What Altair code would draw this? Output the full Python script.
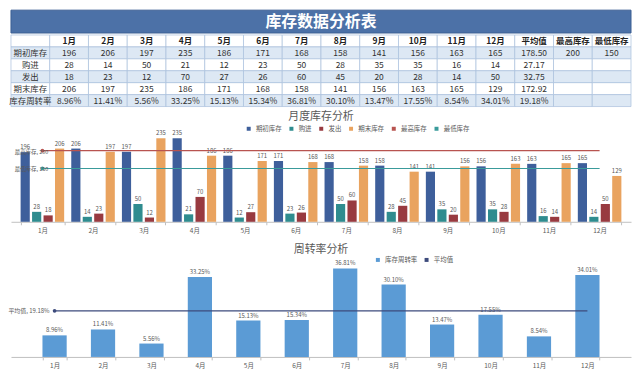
import altair as alt
import pandas as pd

# ---------------- data ----------------
months = ["1月", "2月", "3月", "4月", "5月", "6月", "7月", "8月", "9月", "10月", "11月", "12月"]
opening = [196, 206, 197, 235, 186, 171, 168, 158, 141, 156, 163, 165]
purchase = [28, 14, 50, 21, 12, 23, 50, 28, 35, 35, 16, 14]
issued = [18, 23, 12, 70, 27, 26, 60, 45, 20, 28, 14, 50]
closing = [206, 197, 235, 186, 171, 168, 158, 141, 156, 163, 165, 129]
turnover = [8.96, 11.41, 5.56, 33.25, 15.13, 15.34, 36.81, 30.10, 13.47, 17.55, 8.54, 34.01]
avg_opening = 178.50
avg_purchase = 27.17
avg_issued = 32.75
avg_closing = 172.92
avg_turnover = 19.18
max_stock = 200
min_stock = 150

table_title = "库存数据分析表"
chart1_title = "月度库存分析"
chart2_title = "周转率分析"
series_names = ["期初库存", "购进", "发出", "期末库存"]
line_names = ["最高库存", "最低库存"]
rate_name = "库存周转率"
avg_name = "平均值"
extra_cols = ["平均值", "最高库存", "最低库存"]

FONT = "Noto Sans CJK SC"
W = 624
GREY = "#595959"

# ---------------- banner ----------------
banner_df = pd.DataFrame({"t": [table_title]})
banner = alt.layer(
    alt.Chart(banner_df).mark_rect(fill="#4c71a7", stroke="#3b5f93").encode(
        x=alt.value(0), x2=alt.value(W), y=alt.value(0), y2=alt.value(23)),
    alt.Chart(banner_df).mark_text(color="white", font=FONT, fontSize=16, fontWeight="bold").encode(
        x=alt.value(W / 2), y=alt.value(12), text="t:N"),
).properties(width=W, height=23)

# ---------------- table ----------------
cols = ["_label"] + months + extra_cols
row_keys = ["_header"] + series_names + [rate_name]
row_vals = {
    "期初库存": [str(v) for v in opening] + [f"{avg_opening:.2f}", str(max_stock), str(min_stock)],
    "购进": [str(v) for v in purchase] + [f"{avg_purchase:.2f}", "", ""],
    "发出": [str(v) for v in issued] + [f"{avg_issued:.2f}", "", ""],
    "期末库存": [str(v) for v in closing] + [f"{avg_closing:.2f}", "", ""],
    rate_name: [f"{v:.2f}%" for v in turnover] + [f"{avg_turnover:.2f}%", "", ""],
}
recs = []
for c in cols:
    recs.append({"row": "_header", "col": c, "text": "" if c == "_label" else c})
for r in row_keys[1:]:
    recs.append({"row": r, "col": "_label", "text": r})
    for c, t in zip(cols[1:], row_vals[r]):
        recs.append({"row": r, "col": c, "text": t})
tdf = pd.DataFrame(recs)

tx = alt.X("col:N", sort=cols, axis=None, scale=alt.Scale(paddingInner=0, paddingOuter=0))
ty = alt.Y("row:N", sort=row_keys, axis=None, scale=alt.Scale(paddingInner=0, paddingOuter=0))
cells = alt.Chart(tdf).mark_rect(stroke="#a9c0dc", strokeWidth=0.7).encode(
    x=tx, y=ty,
    fill=alt.Fill("row:N", scale=alt.Scale(domain=row_keys,
                                           range=["#ffffff", "#dde8f4", "#ffffff", "#dde8f4", "#ffffff", "#dde8f4"]),
                  legend=None))
head_txt = alt.Chart(tdf).transform_filter(alt.datum.row == "_header").mark_text(
    font=FONT, fontSize=8.5, fontWeight="bold", color="#222").encode(x=tx, y=ty, text="text:N")
body_txt = alt.Chart(tdf).transform_filter(alt.datum.row != "_header").mark_text(
    font=FONT, fontSize=8.5, color="#333").encode(x=tx, y=ty, text="text:N")
table = alt.layer(cells, head_txt, body_txt).properties(width=W, height=72)

# ---------------- monthly chart ----------------
brecs = []
for s, vals in zip(series_names, [opening, purchase, issued, closing]):
    for m, v in zip(months, vals):
        brecs.append({"month": m, "series": s, "value": v})
bdf = pd.DataFrame(brecs)
lrecs = []
for s, v in zip(line_names, [max_stock, min_stock]):
    for m in months:
        lrecs.append({"month": m, "series": s, "value": v, "label": f"{s}, {v}"})
ldf = pd.DataFrame(lrecs)

axis_x = alt.Axis(labelAngle=0, labelFont=FONT, labelFontSize=6.5, labelColor=GREY, domainColor="#bfbfbf",
                  tickColor="#bfbfbf", tickSize=3, tickBand="extent", labelPadding=3, grid=False)
xb = alt.X("month:N", sort=months, title=None,
           scale=alt.Scale(paddingInner=0.14, paddingOuter=0.19), axis=axis_x)
yb = alt.Y("value:Q", scale=alt.Scale(domain=[0, 246]), axis=None)
xo = alt.XOffset("series:N", sort=series_names, scale=alt.Scale(paddingInner=0.2))
cb = alt.Color("series:N",
               scale=alt.Scale(domain=series_names + line_names,
                               range=["#3e5f9b", "#2f8c8f", "#983a40", "#e9a35f", "#b85450", "#3a9b9b"]),
               legend=alt.Legend(title=None, orient="none", direction="horizontal", legendX=236, legendY=-9,
                                 symbolType="square", symbolSize=16, labelFont=FONT, labelFontSize=6.5,
                                 labelColor=GREY, columnPadding=6, symbolStrokeWidth=0))

bars = alt.Chart(bdf).mark_bar().encode(x=xb, xOffset=xo, y=yb, color=cb)
blab = alt.Chart(bdf).mark_text(dy=-5, fontSize=6, font=FONT, color=GREY).encode(
    x=xb, xOffset=xo, y=yb, text="value:Q")
blines = alt.Chart(ldf).mark_line(strokeWidth=1.2).encode(
    x=xb, y=yb, color=alt.Color("series:N", legend=None))
first = ldf[ldf["month"] == months[0]]
bpts = alt.Chart(first).mark_point(filled=True, size=14, opacity=1).encode(
    x=xb, y=yb, color=alt.Color("series:N", legend=None))
bptlab = alt.Chart(first).mark_text(align="right", dx=6, dy=1, fontSize=5.5, font=FONT, color=GREY).encode(
    x=xb, y=yb, text="label:N")
chart1 = alt.layer(bars, blab, blines, bpts, bptlab).properties(
    width=W, height=88,
    title=alt.TitleParams(chart1_title, font=FONT, fontSize=11, fontWeight="normal", color=GREY,
                          anchor="middle", offset=3))

# ---------------- turnover chart ----------------
cdf = pd.DataFrame({"month": months, "value": turnover, "series": rate_name,
                    "label": [f"{v:.2f}%" for v in turnover]})
adf = pd.DataFrame({"month": months, "value": [avg_turnover] * len(months), "series": avg_name,
                    "label": f"{avg_name}, {avg_turnover:.2f}%"})
xc = alt.X("month:N", sort=months, title=None,
           scale=alt.Scale(paddingInner=0.5, paddingOuter=0.65), axis=axis_x)
yc = alt.Y("value:Q", scale=alt.Scale(domain=[0, 38]), axis=None)
cc = alt.Color("series:N", scale=alt.Scale(domain=[rate_name, avg_name], range=["#5b9bd5", "#3d4b7c"]),
               legend=alt.Legend(title=None, orient="none", direction="horizontal", legendX=366, legendY=-9,
                                 symbolType="square", symbolSize=16, labelFont=FONT, labelFontSize=6.5,
                                 labelColor=GREY, columnPadding=6, symbolStrokeWidth=0))
cbars = alt.Chart(cdf).mark_bar().encode(x=xc, y=yc, color=cc)
clab = alt.Chart(cdf).mark_text(dy=-5, fontSize=6, font=FONT, color=GREY).encode(x=xc, y=yc, text="label:N")
cline = alt.Chart(adf).mark_line(strokeWidth=1.2).encode(x=xc, y=yc, color=alt.Color("series:N", legend=None))
afirst = adf[adf["month"] == months[0]]
cpt = alt.Chart(afirst).mark_point(filled=True, size=14, opacity=1).encode(
    x=xc, y=yc, color=alt.Color("series:N", legend=None))
cptlab = alt.Chart(afirst).mark_text(align="right", dx=-5, fontSize=6, font=FONT, color=GREY).encode(
    x=xc, y=yc, text="label:N")
chart2 = alt.layer(cbars, clab, cline, cpt, cptlab).properties(
    width=W, height=92,
    title=alt.TitleParams(chart2_title, font=FONT, fontSize=11, fontWeight="normal", color=GREY,
                          anchor="middle", offset=2))


def indep(c):
    return c.resolve_scale(
        color="independent", fill="independent", x="independent", y="independent", xOffset="independent"
    ).resolve_legend(color="independent")


header_block = indep(alt.vconcat(banner, table, spacing=0))
upper = indep(alt.vconcat(header_block, chart1, spacing=4))
chart = indep(alt.vconcat(upper, chart2, spacing=9)).properties(
    padding=0, background="white"
).configure_view(stroke=None)

chart.save("out.html", embed_options={"renderer": "svg", "actions": False})
